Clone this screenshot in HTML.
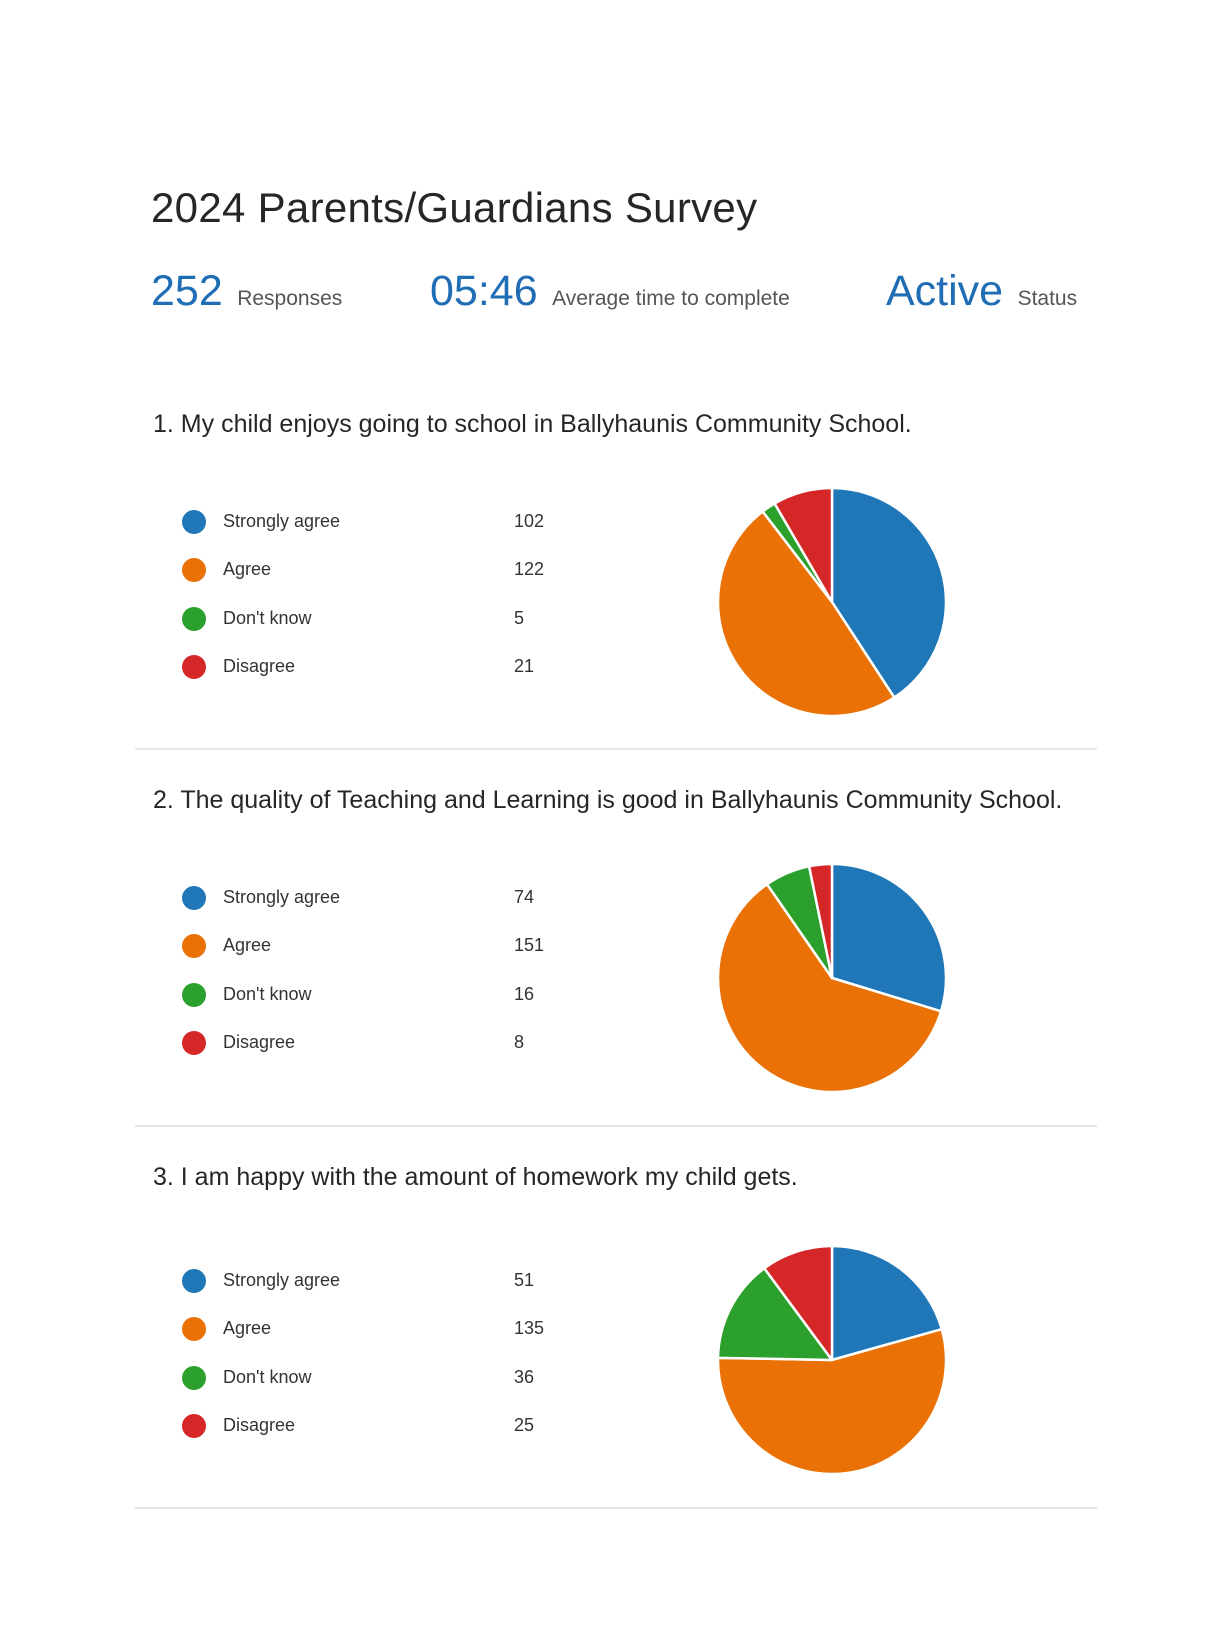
<!DOCTYPE html>
<html><head><meta charset="utf-8"><style>
body{margin:0;width:1222px;height:1626px;background:#fff;position:relative;font-family:"Liberation Sans",sans-serif;overflow:hidden}
.a{position:absolute;white-space:nowrap}
.t{color:#262626;font-size:42px;left:151px;top:184px;letter-spacing:0.3px}
.big{color:#1f6db4;font-size:43px}
.sm{color:#555;font-size:21px}
.q{color:#262626;font-size:25px;left:153px;letter-spacing:0px}
.lab{color:#333;font-size:18px}
.dot{position:absolute;width:24px;height:24px;border-radius:50%}
.sep{position:absolute;left:135px;width:962px;height:2px;background:#e6e6e6}
</style></head><body>
<div class="a t">2024 Parents/Guardians Survey</div>
<div class="a" style="left:151px;top:267px"><span class="big">252</span> <span class="sm" style="margin-left:10px">Responses</span></div>
<div class="a" style="left:430px;top:267px"><span class="big">05:46</span> <span class="sm" style="margin-left:10px">Average time to complete</span></div>
<div class="a" style="left:886px;top:267px"><span class="big">Active</span> <span class="sm" style="margin-left:10px">Status</span></div>
<div id="root"></div>
<svg id="pies" width="1222" height="1626" style="position:absolute;left:0;top:0"></svg>
<script>
const categories=["Strongly agree","Agree","Don't know","Disagree"];
const colors=["#2077b8","#ea7106","#2ca02c","#d62728"];
const questions=["1.  My child enjoys going to school in  Ballyhaunis Community School.","2.  The quality of Teaching and Learning is good in Ballyhaunis Community School.","3.  I am happy with the amount of homework my child gets."];
const q1Values=[102,122,5,21];
const q2Values=[74,151,16,8];
const q3Values=[51,135,36,25];
const allValues=[q1Values,q2Values,q3Values];
const qTop=[410,786,1163], legTop=[522,898,1281], pieCy=[602,978,1360], sepY=[748,1125,1507];
const root=document.getElementById('root'), svg=document.getElementById('pies');
const NS="http://www.w3.org/2000/svg";
allValues.forEach((vals,qi)=>{
  const q=document.createElement('div');q.className='a q';q.style.top=qTop[qi]+'px';q.textContent=questions[qi];
  
  
  root.appendChild(q);
  vals.forEach((v,i)=>{
    const y=legTop[qi]+i*48.4;
    const d=document.createElement('div');d.className='dot';d.style.left='182px';d.style.top=(y-12)+'px';d.style.background=colors[i];
    
    
    root.appendChild(d);
    const l=document.createElement('div');l.className='a lab';l.style.left='223px';l.style.top=(y-11)+'px';l.textContent=categories[i];
    
    
    root.appendChild(l);
    const n=document.createElement('div');n.className='a lab';n.style.left='514px';n.style.top=(y-11)+'px';n.textContent=v;
    
    
    root.appendChild(n);
  });
  const s=document.createElement('div');s.className='sep';s.style.top=sepY[qi]+'px';
  
  
  root.appendChild(s);
  const tot=vals.reduce((a,b)=>a+b,0), cx=832, cy=pieCy[qi], r=114;
  let a0=0;
  vals.forEach((v,i)=>{
    const a1=a0+v/tot*2*Math.PI;
    const x0=cx+r*Math.sin(a0),y0=cy-r*Math.cos(a0),x1=cx+r*Math.sin(a1),y1=cy-r*Math.cos(a1);
    const p=document.createElementNS(NS,'path');
    p.setAttribute('d',`M${cx},${cy}L${x0},${y0}A${r},${r} 0 ${a1-a0>Math.PI?1:0} 1 ${x1},${y1}Z`);
    p.setAttribute('fill',colors[i]);p.setAttribute('stroke','#fff');p.setAttribute('stroke-width','2.5');p.setAttribute('stroke-linejoin','round');
    
    
    svg.appendChild(p);
    a0=a1;
  });
});
</script>
</body></html>
